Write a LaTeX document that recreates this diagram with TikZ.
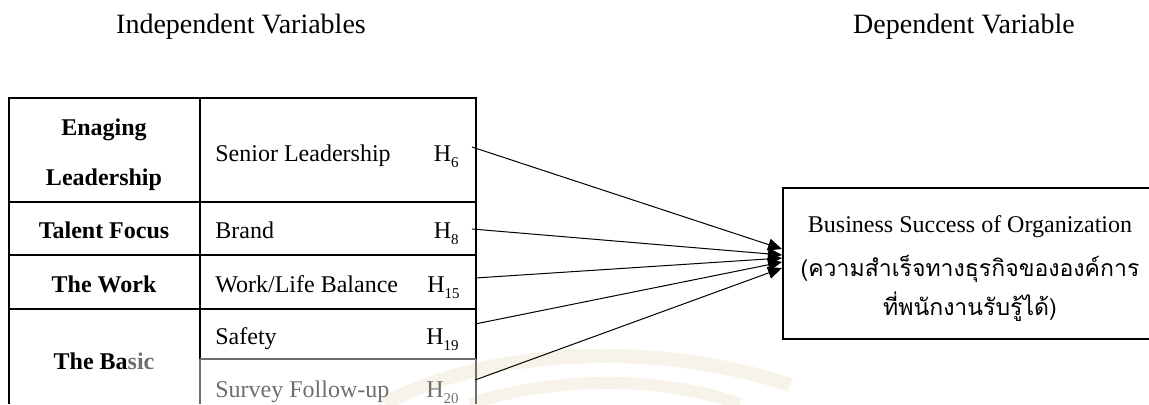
\documentclass[tikz,border=0pt]{standalone}
\usepackage{fontspec}
\setmainfont{Liberation Serif}
\newfontfamily\thaifont[Script=Thai,Scale=0.96]{Loma}
\usepackage{xcolor}
\definecolor{cMain}{HTML}{000000}
\definecolor{cFaint}{HTML}{6E6E6E}
\definecolor{cMark}{HTML}{F8F3EA}
\usepackage{tikz}
\usetikzlibrary{positioning,arrows.meta}
\newcommand{\hypsub}[1]{H\raisebox{-3pt}{\fontsize{7.5}{8}\selectfont #1}}
\tikzset{
  var-title/.style={font=\fontsize{14}{16}\selectfont,inner sep=0pt,anchor=base},
  cell-head/.style={font=\bfseries\fontsize{12}{14}\selectfont,inner sep=0pt,anchor=base},
  cell-item/.style={font=\fontsize{12}{14}\selectfont,inner sep=0pt,anchor=base west},
  cell-hyp/.style={font=\fontsize{12}{14}\selectfont,inner sep=0pt,anchor=base east},
  node-box/.style={draw=cMain,line width=1pt,minimum width=187pt,minimum height=75.5pt,
    align=center,inner sep=0pt,font=\fontsize{12}{14}\selectfont},
  grid-line/.style={draw=cMain,line width=1pt},
  grid-faint/.style={draw=cFaint,line width=1pt},
  arrow/.style={-{Triangle[length=7pt,width=6pt]},line width=0.5pt,draw=cMain},
}

\begin{document}
\begin{tikzpicture}[x=0.5pt,y=-0.5pt]
  \useasboundingbox (0,0) rectangle (1149,404);
  % faint watermark bands
  \draw[cMark,line width=7pt] (385,404) .. controls (470,355) and (640,335) .. (790,385);
  \draw[cMark,line width=6pt] (470,404) .. controls (540,380) and (650,372) .. (740,404);

  \node[var-title] (indep) at (241,33) {Independent Variables};
  \node[var-title] (dep)   at (964,33) {Dependent Variable};

  % table of independent variables
  \draw[grid-line] (9,404) -- (9,98) -- (476,98) -- (476,359);
  \draw[grid-line] (200,98) -- (200,359);
  \draw[grid-line] (9,202) -- (476,202);
  \draw[grid-line] (9,255) -- (476,255);
  \draw[grid-line] (9,309) -- (476,309);
  \draw[grid-faint] (200,359) -- (476,359);
  \draw[grid-faint] (200,359) -- (200,404);
  \draw[grid-faint] (476,359) -- (476,404);

  \node[cell-head] (lead1)  at (104,135) {Enaging};
  \node[cell-head] (lead2)  at (104,185) {Leadership};
  \node[cell-head] (talent) at (104,238) {Talent Focus};
  \node[cell-head] (work)   at (104,292) {The Work};
  \node[cell-head] (basic)  at (104,369) {The Ba\textcolor{cFaint}{sic}};

  \node[cell-item] (senior) at (215,161) {Senior Leadership};
  \node[cell-item] (brand)  at (215,238) {Brand};
  \node[cell-item] (wlb)    at (215,292) {Work/Life Balance};
  \node[cell-item] (safety) at (215,344) {Safety};
  \node[cell-item,text=cFaint] (survey) at (215,397) {Survey Follow-up};

  \node[cell-hyp] (h6)  at (459,161) {\hypsub{6}};
  \node[cell-hyp] (h8)  at (459,238) {\hypsub{8}};
  \node[cell-hyp] (h15) at (460,292) {\hypsub{15}};
  \node[cell-hyp] (h19) at (459,344) {\hypsub{19}};
  \node[cell-hyp,text=cFaint] (h20) at (459,397) {\hypsub{20}};

  % dependent variable
  \node[node-box] (success) at (970,263.5)
    {\rule{0pt}{13.5pt}Business Success of Organization\\[8pt]
     {\thaifont (ความสำเร็จทางธุรกิจขององค์การ}\\[4pt]
     {\thaifont ที่พนักงานรับรู้ได้)}};

  \coordinate (s6)  at (472,147);
  \coordinate (s8)  at (472,229);
  \coordinate (s15) at (475,278);
  \coordinate (s19) at (475,324);
  \coordinate (s20) at (475,380);
  \draw[arrow] (s6)  -- ([yshift=7.25pt]success.west);
  \draw[arrow] (s8)  -- ([yshift=4.25pt]success.west);
  \draw[arrow] (s15) -- ([yshift=2.75pt]success.west);
  \draw[arrow] (s19) -- ([yshift=0.75pt]success.west);
  \draw[arrow] (s20) -- ([yshift=-2.25pt]success.west);
\end{tikzpicture}
\end{document}
